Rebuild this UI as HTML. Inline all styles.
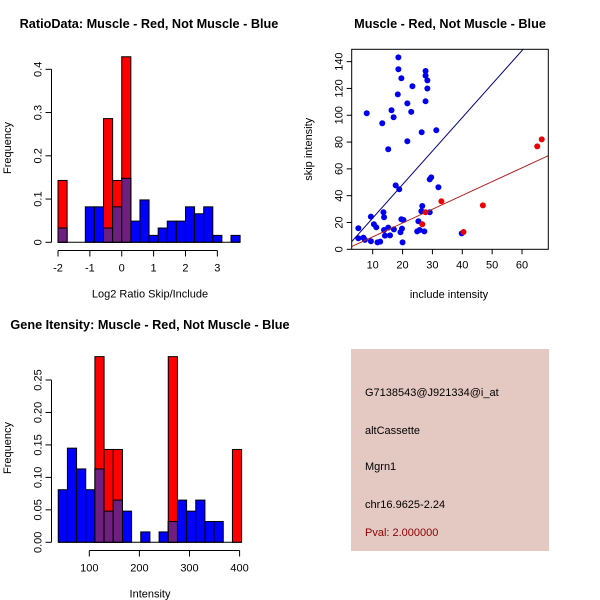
<!DOCTYPE html>
<html><head><meta charset="utf-8"><style>
body{margin:0;background:#fff;}
svg{display:block;font-family:"Liberation Sans",sans-serif;}
</style></head><body>
<svg id="c" width="600" height="600" viewBox="0 0 600 600">
<rect x="0" y="0" width="600" height="600" fill="#fff"/>
<text x="149" y="28" font-size="12.7" font-weight="bold" text-anchor="middle">RatioData: Muscle - Red, Not Muscle - Blue</text>
<text x="450" y="28" font-size="12.7" font-weight="bold" text-anchor="middle">Muscle - Red, Not Muscle - Blue</text>
<text x="150" y="329" font-size="12.7" font-weight="bold" text-anchor="middle">Gene Itensity: Muscle - Red, Not Muscle - Blue</text>
<g>
<rect x="351" y="349" width="198" height="202" fill="#E4C8C2"/>
<text x="365" y="396" font-size="11">G7138543@J921334@i_at</text>
<text x="365" y="434" font-size="11">altCassette</text>
<text x="365" y="470" font-size="11">Mgrn1</text>
<text x="365" y="508" font-size="11">chr16.9625-2.24</text>
<text x="365" y="536" font-size="11" fill="#8B0000">Pval: 2.000000</text>
</g>
</svg>
<script>
// ---- Ratio histogram data ----
const ratioBinStart = -2;
const ratioBinWidth = 2/7;
const ratioBlue = [0.033,0,0,0.082,0.082,0.033,0.082,0.148,0.049,0.098,0.016,0.033,0.049,0.049,0.082,0.066,0.082,0.016,0,0.016];
const ratioRed  = [0.143,0,0,0,0,0.286,0.143,0.429,0,0,0,0,0,0,0,0,0,0,0,0];
const ratioXTicks = [-2,-1,0,1,2,3];
const ratioYTicks = [0,0.1,0.2,0.3,0.4];
// ---- Intensity histogram data ----
const intBinStart = 38;
const intBinWidth = 18.3;
const intBlue = [0.081,0.145,0.113,0.081,0.113,0.048,0.065,0.048,0,0.016,0,0.016,0.032,0.065,0.048,0.065,0.032,0.032,0,0];
const intRed  = [0,0,0,0,0.286,0.143,0.143,0,0,0,0,0,0.286,0,0,0,0,0,0,0.143];
const intXTicks = [100,200,300,400];
const intYTicks = [0,0.05,0.10,0.15,0.20,0.25];
const intYLabels = ["0.00","0.05","0.10","0.15","0.20","0.25"];
// ---- Scatter data ----
const blueX = [18.6,18.6,19.6,27.7,27.7,28.3,28.3,23.3,18.4,27.7,21.6,22.9,16.3,17,8,13.2,26.4,31.3,21.6,15.2,17.7,18.9,29.1,29.6,32,26.6,26.3,29.1,13.6,13.8,9.4,10.4,11.2,5.2,19.6,20.3,19.8,19.3,17.1,15.2,13.8,14.1,15.8,25.3,24.9,25.7,27.3,20,12.5,11.6,9.4,7.4,6.9,5.2,39.8];
const blueY = [143.2,134.3,127.6,133,129.6,126,120,121.6,115.6,110.4,108.9,102.5,103.7,98.5,101.5,94,87.3,88.8,80.6,74.6,47.7,44.8,52.2,53.7,46.3,32.3,28.4,27.6,27.6,23.9,24.4,18.7,16.4,15.7,22.4,21.9,15.4,12.7,14.9,16.2,14.4,10.2,10.4,20.9,13.4,14.4,13.4,5.2,5.7,5.2,6,7,8.7,8.2,11.9];
const redX = [66.6,65.1,33,46.9,27.7,26.6,40.4];
const redY = [82,76.8,35.8,32.8,27.6,18.7,12.9];
const blueFit = [-1.7,2.5];   // intercept, slope
const redFit = [-1.0,1.03];
const scXTicks = [10,20,30,40,50,60];
const scYTicks = [0,20,40,60,80,100,120,140];

const NS="http://www.w3.org/2000/svg";
const svg=document.getElementById('c');
function mk(tag,attrs,parent){const e=document.createElementNS(NS,tag);for(const k in attrs)e.setAttribute(k,attrs[k]);(parent||svg).appendChild(e);return e;}
const PURPLE="#6F1F7F";

function hist(o){
  const g=mk('g',{});
  
  
  const sx=v=>o.x0+(v-o.xv0)*o.xs, sy=v=>o.y0-v*o.ys;
  const n=o.blue.length;
  for(let i=0;i<n;i++){
    const l=sx(o.start+i*o.w), r=sx(o.start+(i+1)*o.w);
    const b=o.blue[i];
    if(b>0){const e=mk('rect',{x:l,y:sy(b),width:r-l,height:sy(0)-sy(b),fill:'#0000FF',stroke:'#000','stroke-width':1},g);
      
      }
  }
  for(let i=0;i<n;i++){
    const l=sx(o.start+i*o.w), r=sx(o.start+(i+1)*o.w);
    const b=o.blue[i], rd=o.red[i];
    if(rd>0){const e=mk('rect',{x:l,y:sy(rd),width:r-l,height:sy(0)-sy(rd),fill:'#FF0000',stroke:'#000','stroke-width':1},g);
      
      
      const m=Math.min(b,rd);
      if(m>0){const p=mk('rect',{x:l,y:sy(m),width:r-l,height:sy(0)-sy(m),fill:PURPLE,stroke:'#000','stroke-width':1},g);
        
        }
    }
  }
  mk('line',{x1:sx(o.start),x2:sx(o.start+n*o.w),y1:sy(0),y2:sy(0),stroke:'#000'},g);
  const xa=mk('g',{},g);
  
  
  const ay=o.xAxisY;
  mk('line',{x1:sx(o.xt[0]),x2:sx(o.xt[o.xt.length-1]),y1:ay,y2:ay,stroke:'#000'},xa);
  o.xt.forEach(t=>{mk('line',{x1:sx(t),x2:sx(t),y1:ay,y2:ay+6,stroke:'#000'},xa);
    const tx=mk('text',{x:sx(t),y:ay+21,'font-size':11,'text-anchor':'middle'},xa);tx.textContent=t;});
  const xt=mk('text',{x:o.xTitleX,y:ay+47,'font-size':11,'text-anchor':'middle'},g);xt.textContent=o.xTitle;
  
  
  const ya=mk('g',{},g);
  
  
  const ax=51.5;
  mk('line',{x1:ax,x2:ax,y1:sy(o.yt[0]),y2:sy(o.yt[o.yt.length-1]),stroke:'#000'},ya);
  o.yt.forEach((t,i)=>{mk('line',{x1:ax-6,x2:ax,y1:sy(t),y2:sy(t),stroke:'#000'},ya);
    const tx=mk('text',{x:0,y:0,'font-size':11,'text-anchor':'middle',transform:`translate(${ax-10},${sy(t)}) rotate(-90)`},ya);tx.textContent=o.yl[i];});
  const yt=mk('text',{x:0,y:0,'font-size':11,'text-anchor':'middle',transform:`translate(11,${o.yTitleY}) rotate(-90)`},g);yt.textContent='Frequency';
  
  
}
hist({name:'ratio-histogram',blue:ratioBlue,red:ratioRed,start:ratioBinStart,w:ratioBinWidth,
  x0:58,xv0:-2,xs:31.87,y0:242.3,ys:432.5,xt:ratioXTicks,yt:ratioYTicks,yl:ratioYTicks.map(String),
  xAxisY:250.5,xTitle:'Log2 Ratio Skip/Include',xTitleX:150,yTitleY:148});
hist({name:'intensity-histogram',blue:intBlue,red:intRed,start:intBinStart,w:intBinWidth,
  x0:89.3,xv0:100,xs:0.501,y0:542.3,ys:649.2,xt:intXTicks,yt:intYTicks,yl:intYLabels,
  xAxisY:550.5,xTitle:'Intensity',xTitleX:150,yTitleY:448});

(function(){
  const g=mk('g',{});
  
  
  const L=351.7,R=548.3,T=49.3,B=249.3;
  const xmin=2.97,xmax=68.8,ymin=0,ymax=149.2;
  const sx=v=>L+(v-xmin)/(xmax-xmin)*(R-L), sy=v=>B-(v-ymin)/(ymax-ymin)*(B-T);
  const clip=mk('clipPath',{id:'scclip'},g);mk('rect',{x:L,y:T,width:R-L,height:B-T},clip);
  blueX.forEach((x,i)=>{const c=mk('circle',{cx:sx(x),cy:sy(blueY[i]),r:3,fill:'#0000EE'},g);
    
    });
  redX.forEach((x,i)=>{const c=mk('circle',{cx:sx(x),cy:sy(redY[i]),r:3,fill:'#EE0000'},g);
    
    });
  const bl=mk('line',{x1:sx(xmin),y1:sy(blueFit[0]+blueFit[1]*xmin),x2:sx(xmax),y2:sy(blueFit[0]+blueFit[1]*xmax),stroke:'#00008B','stroke-width':1,'clip-path':'url(#scclip)'},g);
  
  
  const rl=mk('line',{x1:sx(xmin),y1:sy(redFit[0]+redFit[1]*xmin),x2:sx(xmax),y2:sy(redFit[0]+redFit[1]*xmax),stroke:'#B22222','stroke-width':1,'clip-path':'url(#scclip)'},g);
  
  
  mk('rect',{x:L,y:T,width:R-L,height:B-T,fill:'none',stroke:'#000'},g);
  const xa=mk('g',{},g);
  
  
  scXTicks.forEach(t=>{mk('line',{x1:sx(t),x2:sx(t),y1:B,y2:B+5,stroke:'#000'},xa);
    const tx=mk('text',{x:sx(t),y:B+19,'font-size':11,'text-anchor':'middle'},xa);tx.textContent=t;});
  const xt=mk('text',{x:449,y:298,'font-size':11,'text-anchor':'middle'},g);xt.textContent='include intensity';
  
  
  const ya=mk('g',{},g);
  
  
  scYTicks.forEach(t=>{mk('line',{x1:L-5,x2:L,y1:sy(t),y2:sy(t),stroke:'#000'},ya);
    const tx=mk('text',{x:0,y:0,'font-size':11,'text-anchor':'middle',transform:`translate(${L-9},${sy(t)}) rotate(-90)`},ya);tx.textContent=t;});
  const yt=mk('text',{x:0,y:0,'font-size':11,'text-anchor':'middle',transform:`translate(312,${(T+B)/2}) rotate(-90)`},g);yt.textContent='skip intensity';
  
  
})();
</script>
</body></html>
